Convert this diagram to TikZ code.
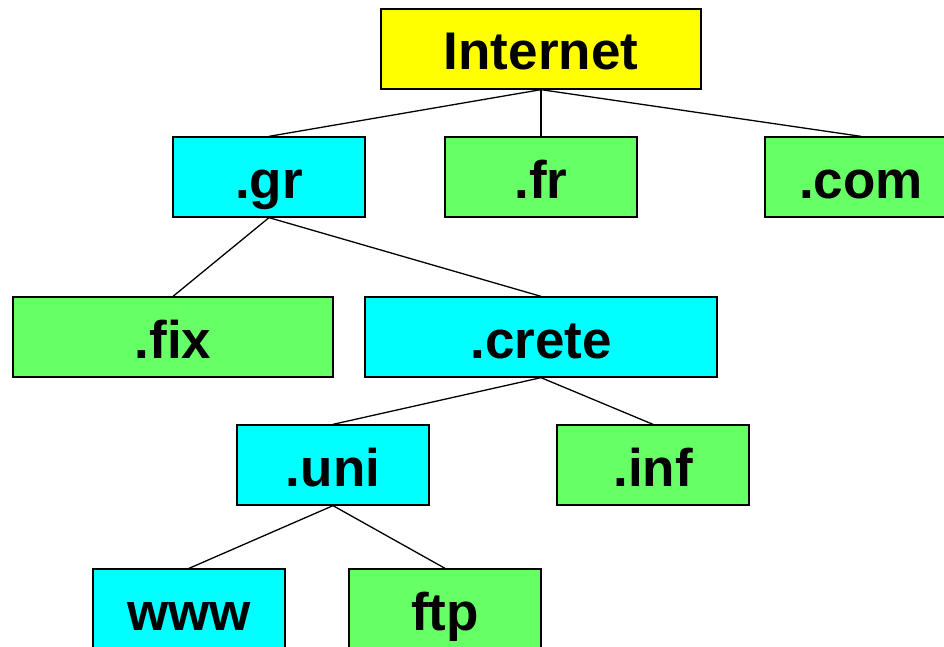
\documentclass[tikz,border=0pt]{standalone}
\usepackage{fontspec}
\setmainfont{Liberation Sans}
\definecolor{boxyellow}{HTML}{FFFF00}
\definecolor{boxcyan}{HTML}{00FFFF}
\definecolor{boxgreen}{HTML}{66FF66}
\tikzset{
  dom/.style={draw=black, line width=1.3pt, inner sep=0pt, minimum height=80pt,
    text height=42pt, text depth=0pt, font=\fontsize{53}{60}\selectfont\bfseries},
  yel/.style={dom, fill=boxyellow},
  cya/.style={dom, fill=boxcyan},
  grn/.style={dom, fill=boxgreen},
  link/.style={draw=black, line width=1.3pt}
}
\begin{document}
\begin{tikzpicture}[x=1pt,y=-1pt]
\useasboundingbox (0,0) rectangle (944,647);
\clip (0,0) rectangle (944,647);
\node[yel, minimum width=320pt] (inet) at (541,49) {Internet};
\node[cya, minimum width=192pt] (gr) at (269,177) {.gr};
\node[grn, minimum width=192pt] (fr) at (541,177) {.fr};
\node[grn, minimum width=192pt] (com) at (861,177) {.com};
\node[grn, minimum width=320pt] (fix) at (173,337) {.fix};
\node[cya, minimum width=352pt] (crete) at (541,337) {.crete};
\node[cya, minimum width=192pt] (uni) at (333,465) {.uni};
\node[grn, minimum width=192pt] (inf) at (653,465) {.inf};
\node[cya, minimum width=192pt] (www) at (189,609) {www};
\node[grn, minimum width=192pt] (ftp) at (445,609) {ftp};
\draw[link] (inet.south) -- (gr.north);
\draw[link] (inet.south) -- (fr.north);
\draw[link] (inet.south) -- (com.north);
\draw[link] (gr.south) -- (fix.north);
\draw[link] (gr.south) -- (crete.north);
\draw[link] (crete.south) -- (uni.north);
\draw[link] (crete.south) -- (inf.north);
\draw[link] (uni.south) -- (www.north);
\draw[link] (uni.south) -- (ftp.north);
\end{tikzpicture}
\end{document}
